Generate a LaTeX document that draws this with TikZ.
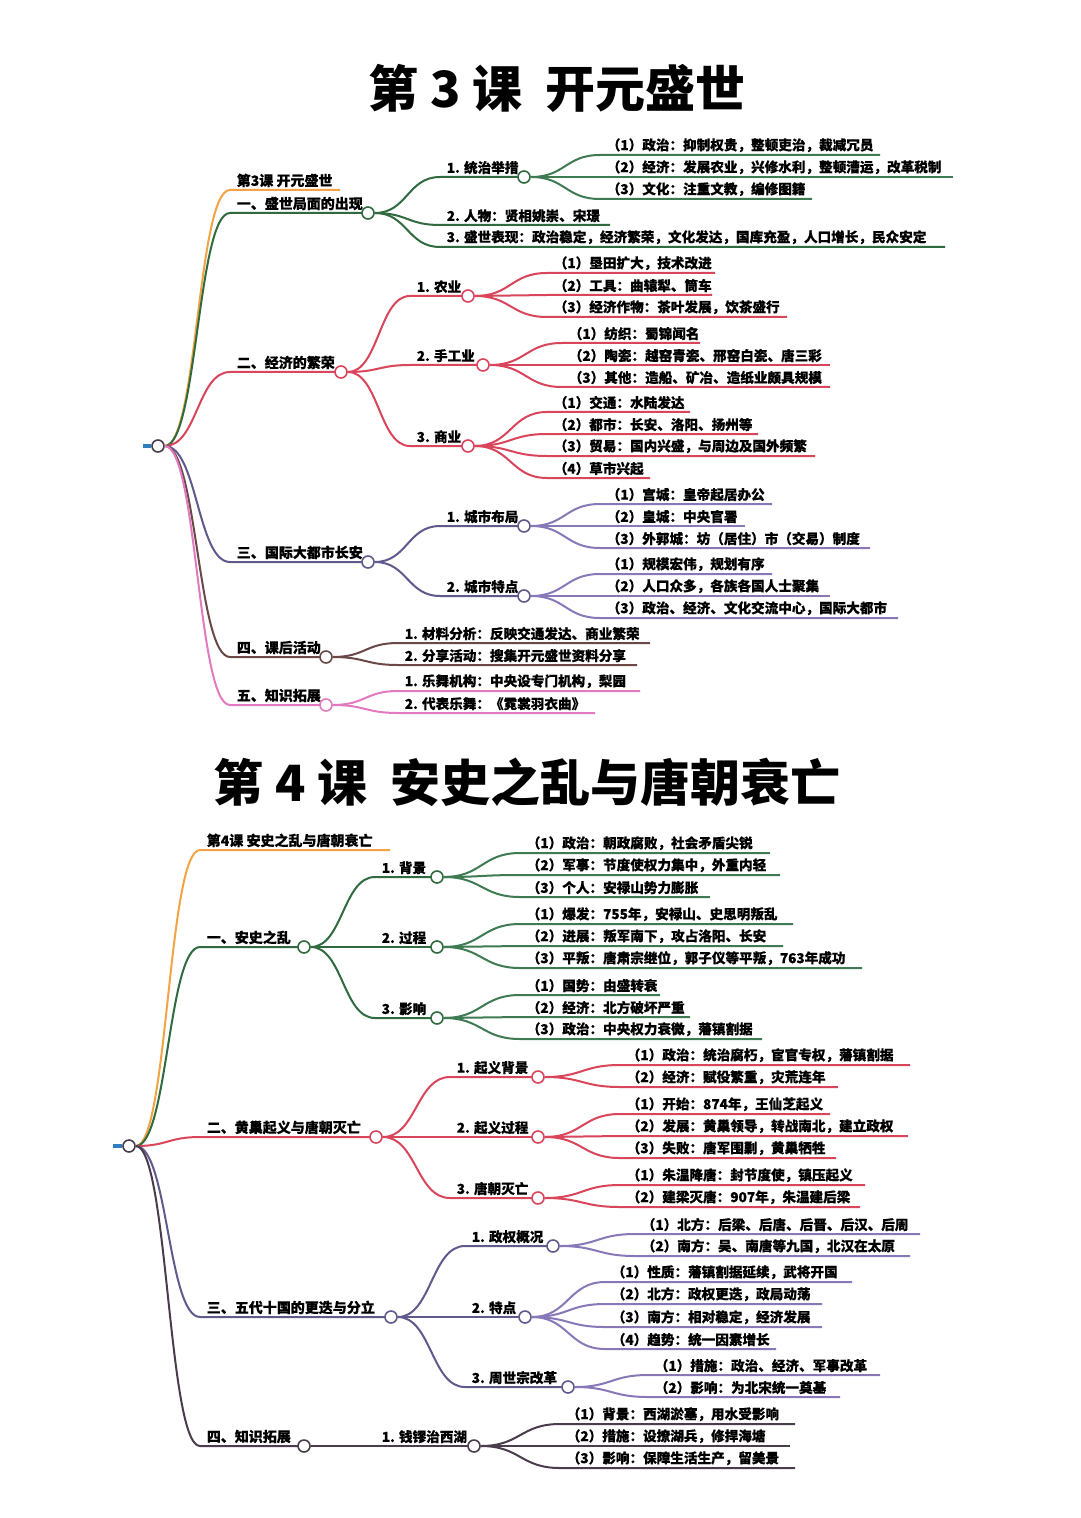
\documentclass[tikz,border=0pt]{standalone}
\usepackage{fontspec}
\setmainfont{Noto Sans CJK SC}
\newfontfamily\med[FakeBold=0.35]{Noto Sans CJK SC}
\usetikzlibrary{calc}
\definecolor{or}{HTML}{F2A445}
\definecolor{gr}{HTML}{2F6B3F}
\definecolor{grl}{HTML}{3E7A52}
\definecolor{rd}{HTML}{D9455B}
\definecolor{pu}{HTML}{5E5A8C}
\definecolor{pul}{HTML}{8878B8}
\definecolor{br}{HTML}{6A4848}
\definecolor{pk}{HTML}{E27AC0}
\definecolor{dk}{HTML}{4A3C4C}
\definecolor{bl}{HTML}{2F7FC0}
\tikzset{
  circ/.style={circle,draw=#1,fill=white,line width=0.8pt,minimum size=6pt,inner sep=0pt},
  lab/.style={anchor=south west,inner sep=1.2pt,font=\med\bfseries\fontsize{6.8}{8}\selectfont},
  labA/.style={anchor=south west,inner sep=1.2pt,font=\med\bfseries\fontsize{7}{8}\selectfont},
  ttl/.style={font=\bfseries\fontsize{25}{30}\selectfont}
}
% #1 color #2 parent #3 x1 #4 y #5 x2 #6 text #7 name #8 label style
\newcommand\mmb[8]{%
  \coordinate (#7s) at (#3,#4); \coordinate (#7e) at (#5,#4);
  \draw[#1,line width=1pt] let \p1=(#2.east), \p2=(#7s) in
    (\p1) .. controls ({\x1/2+\x2/2},\y1) and ({\x1/2+\x2/2},\y2) .. (\p2) -- (#7e);
  \node[#8] (#7) at ([xshift=2pt]#7s) {#6};
}
\newcommand\mmc[4]{\node[circ=#1] (#4) at (#2,#3) {};}
\begin{document}
\begin{tikzpicture}[x=0.5pt,y=-0.5pt]
\useasboundingbox[fill=white] (0,0) rectangle (1080,1518);
%================ Lesson 3
\node[ttl] (t3) at (557,88) {第 3 课\ \ 开元盛世};
\mmc{dk}{158}{446}{r3}
\draw[bl,line width=1.6pt] (143,446) -- (r3.west);
\mmb{or}{r3}{230}{190}{340}{第3课 开元盛世}{a0}{labA}
\mmb{gr}{r3}{230}{213}{362}{一、盛世局面的出现}{a1}{labA}
\mmb{rd}{r3}{230}{372}{335}{二、经济的繁荣}{a2}{labA}
\mmb{pu}{r3}{230}{562}{362}{三、国际大都市长安}{a3}{labA}
\mmb{br}{r3}{230}{657}{320}{四、课后活动}{a4}{labA}
\mmb{pk}{r3}{230}{705}{320}{五、知识拓展}{a5}{labA}
\mmc{gr}{368}{213}{c1}\mmc{rd}{341}{372}{c2}\mmc{pu}{368}{562}{c3}\mmc{br}{326}{657}{c4}\mmc{pk}{326}{705}{c5}
% 一
\mmb{gr}{c1}{440}{177}{518}{1. 统治举措}{b11}{lab}
\mmb{gr}{c1}{440}{225}{610}{2. 人物：贤相姚崇、宋璟}{b12}{lab}
\mmb{gr}{c1}{440}{247}{945}{3. 盛世表现：政治稳定，经济繁荣，文化发达，国库充盈，人口增长，民众安定}{b13}{lab}
\mmc{gr}{524}{177}{c11}
\mmb{grl}{c11}{600}{155}{880}{（1）政治：抑制权贵，整顿吏治，裁减冗员}{l111}{lab}
\mmb{grl}{c11}{600}{177}{953}{（2）经济：发展农业，兴修水利，整顿漕运，改革税制}{l112}{lab}
\mmb{grl}{c11}{600}{199}{812}{（3）文化：注重文教，编修图籍}{l113}{lab}
% 二
\mmb{rd}{c2}{410}{296}{462}{1. 农业}{b21}{lab}
\mmb{rd}{c2}{410}{365}{477}{2. 手工业}{b22}{lab}
\mmb{rd}{c2}{410}{446}{462}{3. 商业}{b23}{lab}
\mmc{rd}{468}{296}{c21}\mmc{rd}{483}{365}{c22}\mmc{rd}{468}{446}{c23}
\mmb{rd}{c21}{547}{273}{715}{（1）垦田扩大，技术改进}{l211}{lab}
\mmb{rd}{c21}{547}{295}{712}{（2）工具：曲辕犁、筒车}{l212}{lab}
\mmb{rd}{c21}{547}{317}{787}{（3）经济作物：茶叶发展，饮茶盛行}{l213}{lab}
\mmb{rd}{c22}{562}{343}{700}{（1）纺织：蜀锦闻名}{l221}{lab}
\mmb{rd}{c22}{562}{365}{830}{（2）陶瓷：越窑青瓷、邢窑白瓷、唐三彩}{l222}{lab}
\mmb{rd}{c22}{562}{387}{830}{（3）其他：造船、矿冶、造纸业颇具规模}{l223}{lab}
\mmb{rd}{c23}{547}{412}{690}{（1）交通：水陆发达}{l231}{lab}
\mmb{rd}{c23}{547}{434}{758}{（2）都市：长安、洛阳、扬州等}{l232}{lab}
\mmb{rd}{c23}{547}{456}{815}{（3）贸易：国内兴盛，与周边及国外频繁}{l233}{lab}
\mmb{rd}{c23}{547}{478}{650}{（4）草市兴起}{l234}{lab}
% 三
\mmb{pu}{c3}{440}{526}{518}{1. 城市布局}{b31}{lab}
\mmb{pu}{c3}{440}{596}{518}{2. 城市特点}{b32}{lab}
\mmc{pu}{524}{526}{c31}\mmc{pu}{524}{596}{c32}
\mmb{pul}{c31}{600}{504}{772}{（1）宫城：皇帝起居办公}{l311}{lab}
\mmb{pul}{c31}{600}{526}{745}{（2）皇城：中央官署}{l312}{lab}
\mmb{pul}{c31}{600}{548}{870}{（3）外郭城：坊（居住）市（交易）制度}{l313}{lab}
\mmb{pul}{c32}{600}{574}{772}{（1）规模宏伟，规划有序}{l321}{lab}
\mmb{pul}{c32}{600}{596}{830}{（2）人口众多，各族各国人士聚集}{l322}{lab}
\mmb{pul}{c32}{600}{618}{898}{（3）政治、经济、文化交流中心，国际大都市}{l323}{lab}
% 四 五
\mmb{br}{c4}{398}{643}{650}{1. 材料分析：反映交通发达、商业繁荣}{l41}{lab}
\mmb{br}{c4}{398}{665}{637}{2. 分享活动：搜集开元盛世资料分享}{l42}{lab}
\mmb{pk}{c5}{398}{691}{640}{1. 乐舞机构：中央设专门机构，梨园}{l51}{lab}
\mmb{pk}{c5}{398}{713}{595}{2. 代表乐舞：《霓裳羽衣曲》}{l52}{lab}
%================ Lesson 4
\node[ttl] (t4) at (527,782) {第 4 课\ \ 安史之乱与唐朝衰亡};
\mmc{dk}{129}{1146}{r4}
\draw[bl,line width=1.6pt] (113,1146) -- (r4.west);
\mmb{or}{r4}{200}{850}{390}{第4课 安史之乱与唐朝衰亡}{d0}{labA}
\mmb{gr}{r4}{200}{947}{298}{一、安史之乱}{d1}{labA}
\mmb{rd}{r4}{200}{1137}{370}{二、黄巢起义与唐朝灭亡}{d2}{labA}
\mmb{pu}{r4}{200}{1317}{385}{三、五代十国的更迭与分立}{d3}{labA}
\mmb{dk}{r4}{200}{1446}{298}{四、知识拓展}{d4}{labA}
\mmc{gr}{304}{947}{e1}\mmc{rd}{376}{1137}{e2}\mmc{pu}{391}{1317}{e3}\mmc{dk}{304}{1446}{e4}
% 一
\mmb{gr}{e1}{375}{877}{431}{1. 背景}{f11}{lab}
\mmb{gr}{e1}{375}{947}{431}{2. 过程}{f12}{lab}
\mmb{gr}{e1}{375}{1018}{431}{3. 影响}{f13}{lab}
\mmc{gr}{437}{877}{e11}\mmc{gr}{437}{947}{e12}\mmc{gr}{437}{1018}{e13}
\mmb{grl}{e11}{520}{853}{770}{（1）政治：朝政腐败，社会矛盾尖锐}{m111}{lab}
\mmb{grl}{e11}{520}{875}{780}{（2）军事：节度使权力集中，外重内轻}{m112}{lab}
\mmb{grl}{e11}{520}{897}{710}{（3）个人：安禄山势力膨胀}{m113}{lab}
\mmb{grl}{e12}{520}{924}{793}{（1）爆发：755年，安禄山、史思明叛乱}{m121}{lab}
\mmb{grl}{e12}{520}{946}{783}{（2）进展：叛军南下，攻占洛阳、长安}{m122}{lab}
\mmb{grl}{e12}{520}{968}{862}{（3）平叛：唐肃宗继位，郭子仪等平叛，763年成功}{m123}{lab}
\mmb{grl}{e13}{520}{995}{660}{（1）国势：由盛转衰}{m131}{lab}
\mmb{grl}{e13}{520}{1017}{690}{（2）经济：北方破坏严重}{m132}{lab}
\mmb{grl}{e13}{520}{1039}{762}{（3）政治：中央权力衰微，藩镇割据}{m133}{lab}
% 二
\mmb{rd}{e2}{450}{1077}{532}{1. 起义背景}{f21}{lab}
\mmb{rd}{e2}{450}{1137}{532}{2. 起义过程}{f22}{lab}
\mmb{rd}{e2}{450}{1198}{532}{3. 唐朝灭亡}{f23}{lab}
\mmc{rd}{538}{1077}{e21}\mmc{rd}{538}{1137}{e22}\mmc{rd}{538}{1198}{e23}
\mmb{rd}{e21}{620}{1065}{910}{（1）政治：统治腐朽，宦官专权，藩镇割据}{m211}{lab}
\mmb{rd}{e21}{620}{1087}{838}{（2）经济：赋役繁重，灾荒连年}{m212}{lab}
\mmb{rd}{e22}{620}{1114}{830}{（1）开始：874年，王仙芝起义}{m221}{lab}
\mmb{rd}{e22}{620}{1136}{908}{（2）发展：黄巢领导，转战南北，建立政权}{m222}{lab}
\mmb{rd}{e22}{620}{1158}{836}{（3）失败：唐军围剿，黄巢牺牲}{m223}{lab}
\mmb{rd}{e23}{620}{1185}{865}{（1）朱温降唐：封节度使，镇压起义}{m231}{lab}
\mmb{rd}{e23}{620}{1207}{860}{（2）建梁灭唐：907年，朱温建后梁}{m232}{lab}
% 三
\mmb{pu}{e3}{465}{1246}{547}{1. 政权概况}{f31}{lab}
\mmb{pu}{e3}{465}{1317}{519}{2. 特点}{f32}{lab}
\mmb{pu}{e3}{465}{1387}{562}{3. 周世宗改革}{f33}{lab}
\mmc{pu}{553}{1246}{e31}\mmc{pu}{525}{1317}{e32}\mmc{pu}{568}{1387}{e33}
\mmb{pul}{e31}{635}{1234}{920}{（1）北方：后梁、后唐、后晋、后汉、后周}{m311}{lab}
\mmb{pul}{e31}{635}{1256}{910}{（2）南方：吴、南唐等九国，北汉在太原}{m312}{lab}
\mmb{pul}{e32}{605}{1282}{852}{（1）性质：藩镇割据延续，武将开国}{m321}{lab}
\mmb{pul}{e32}{605}{1304}{822}{（2）北方：政权更迭，政局动荡}{m322}{lab}
\mmb{pul}{e32}{605}{1327}{822}{（3）南方：相对稳定，经济发展}{m323}{lab}
\mmb{pul}{e32}{605}{1349}{776}{（4）趋势：统一因素增长}{m324}{lab}
\mmb{pul}{e33}{648}{1375}{880}{（1）措施：政治、经济、军事改革}{m331}{lab}
\mmb{pul}{e33}{648}{1397}{840}{（2）影响：为北宋统一奠基}{m332}{lab}
% 四
\mmb{dk}{e4}{375}{1446}{468}{1. 钱镠治西湖}{f41}{lab}
\mmc{dk}{474}{1446}{e41}
\mmb{dk}{e41}{560}{1424}{795}{（1）背景：西湖淤塞，用水受影响}{m411}{lab}
\mmb{dk}{e41}{560}{1446}{790}{（2）措施：设撩湖兵，修捍海塘}{m412}{lab}
\mmb{dk}{e41}{560}{1468}{795}{（3）影响：保障生活生产，留美景}{m413}{lab}
\end{tikzpicture}
\end{document}
